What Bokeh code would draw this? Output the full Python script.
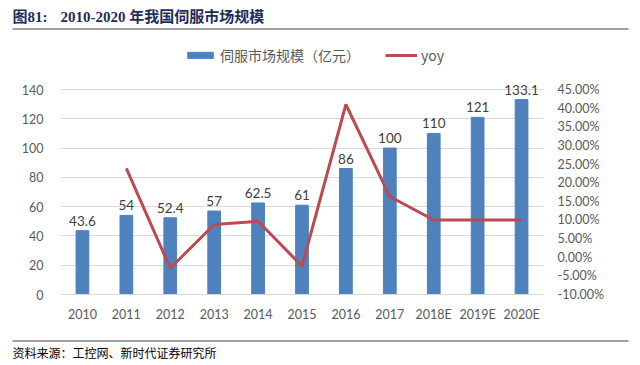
from bokeh.plotting import figure
from bokeh.layouts import column
from bokeh.models import (Range1d, FactorRange, LinearAxis, FixedTicker, NumeralTickFormatter,
                          Legend, LegendItem, ColumnDataSource, Label)
from bokeh.core.properties import value
from bokeh.embed import file_html
from bokeh.resources import INLINE

years = ["2010", "2011", "2012", "2013", "2014", "2015", "2016", "2017", "2018E", "2019E", "2020E"]
market = [43.6, 54, 52.4, 57, 62.5, 61, 86, 100, 110, 121, 133.1]
market_labels = ["43.6", "54", "52.4", "57", "62.5", "61", "86", "100", "110", "121", "133.1"]
yoy_years = ["2011", "2012", "2013", "2014", "2015", "2016", "2017", "2018E", "2019E", "2020E"]
yoy = [0.2385, -0.0296, 0.0878, 0.0965, -0.024, 0.4098, 0.1628, 0.10, 0.10, 0.10]
left_ticks = [0, 20, 40, 60, 80, 100, 120, 140]
right_ticks = [-0.10, -0.05, 0.0, 0.05, 0.10, 0.15, 0.20, 0.25, 0.30, 0.35, 0.40, 0.45]
title_prefix = "图81:"
title_text = "2010-2020 年我国伺服市场规模"
source_text = "资料来源：工控网、新时代证券研究所"

W = 640
HEAD_H, FIG_H, FOOT_H = 36, 298, 31
NUM_FONT = "Lato"
CJK = "Noto Sans CJK SC"
TITLE_FONT = "Liberation Serif, Noto Sans CJK SC"
TITLE_COLOR = "#1F2D5C"
RULE_COLOR = "#404040"


def blank_figure(h):
    # pixel-based ranges so the decorative rule can be placed in page pixels
    f = figure(width=W, height=h, title=None, x_axis_type=None, y_axis_type=None,
               x_range=Range1d(0, W), y_range=Range1d(0, h), output_backend="svg",
               toolbar_location=None, min_border=0, margin=0, frame_align=False)
    f.grid.visible = False
    f.outline_line_color = None
    f.background_fill_alpha = 0
    f.border_fill_alpha = 0
    return f


# ---- header: title + rule (rule at page y 28)
hdr = blank_figure(HEAD_H)
hdr.add_layout(Label(x=12, y=HEAD_H - 16, x_units="screen", y_units="screen", text=title_prefix,
                     text_font=TITLE_FONT, text_font_style="bold", text_font_size="15px",
                     text_color=TITLE_COLOR, text_baseline="middle"))
hdr.add_layout(Label(x=60, y=HEAD_H - 16, x_units="screen", y_units="screen", text=title_text,
                     text_font=TITLE_FONT, text_font_style="bold", text_font_size="15px",
                     text_color=TITLE_COLOR, text_baseline="middle"))
hdr.segment(x0=12, y0=HEAD_H - 28.5, x1=628, y1=HEAD_H - 28.5, line_color=RULE_COLOR, line_width=1)

# ---- main chart
p = figure(width=W, height=FIG_H, x_range=FactorRange(*years, range_padding=0),
           y_range=Range1d(0, 170.05), output_backend="svg", toolbar_location=None,
           min_border_left=60, min_border_right=97, min_border_top=9, min_border_bottom=40,
           margin=0, frame_align=False)
p.outline_line_color = None
p.background_fill_alpha = 0
p.border_fill_alpha = 0

p.extra_y_ranges = {"yoy": Range1d(-0.10, 0.56805)}

src = ColumnDataSource(dict(year=years, market=market, label=market_labels))
bars = p.vbar(x="year", top="market", width=0.29, source=src,
              fill_color="#4F81BD", line_color="#4F81BD")
p.text(x="year", y="market", text="label", source=src, text_align="center",
       text_baseline="bottom", y_offset=-5, text_font=value(NUM_FONT),
       text_font_size="13.5px", text_color="#404040")

line = p.line(x=yoy_years, y=yoy, y_range_name="yoy", line_color="#BC4A50", line_width=3)

ya = p.yaxis[0]
ya.ticker = FixedTicker(ticks=left_ticks)
ya.axis_line_color = None
ya.major_tick_line_color = None
ya.minor_tick_line_color = None
ya.major_label_standoff = 11
ya.major_label_text_font = NUM_FONT
ya.major_label_text_font_size = "12.5px"
ya.major_label_text_color = "#595959"

ra = LinearAxis(y_range_name="yoy", ticker=FixedTicker(ticks=right_ticks),
                formatter=NumeralTickFormatter(format="0.00%"))
ra.axis_line_color = None
ra.major_tick_line_color = None
ra.minor_tick_line_color = None
ra.major_label_standoff = 8
ra.major_label_text_font = NUM_FONT
ra.major_label_text_font_size = "12.5px"
ra.major_label_text_color = "#595959"
p.add_layout(ra, "right")

xa = p.xaxis[0]
xa.axis_line_color = "#D9D9D9"
xa.major_tick_line_color = None
xa.minor_tick_line_color = None
xa.major_label_standoff = 6
xa.major_label_text_font = NUM_FONT
xa.major_label_text_font_size = "12.5px"
xa.major_label_text_color = "#595959"

p.xgrid.visible = False
p.ygrid.ticker = FixedTicker(ticks=left_ticks)
p.ygrid.grid_line_color = "#D9D9D9"

legend = Legend(items=[LegendItem(label="伺服市场规模（亿元）", renderers=[bars]),
                       LegendItem(label="yoy", renderers=[line])],
                location=(124, 229), orientation="horizontal", glyph_width=32, glyph_height=8,
                label_height=16, label_standoff=4, spacing=25, padding=0, margin=0,
                border_line_color=None, background_fill_alpha=0,
                label_text_font=CJK, label_text_font_size="14px", label_text_color="#595959")
p.add_layout(legend)

# ---- footer: rule (page y 340) + source
ftr = blank_figure(FOOT_H)
ftr.segment(x0=12, y0=FOOT_H - 6.5, x1=628, y1=FOOT_H - 6.5, line_color=RULE_COLOR, line_width=1)
ftr.add_layout(Label(x=12, y=13, x_units="screen", y_units="screen", text=source_text,
                     text_font=CJK, text_font_size="12px", text_color="#000000",
                     text_baseline="middle"))

layout = column(hdr, p, ftr, spacing=0, margin=0)
open("out.html", "w").write(file_html(layout, INLINE))
